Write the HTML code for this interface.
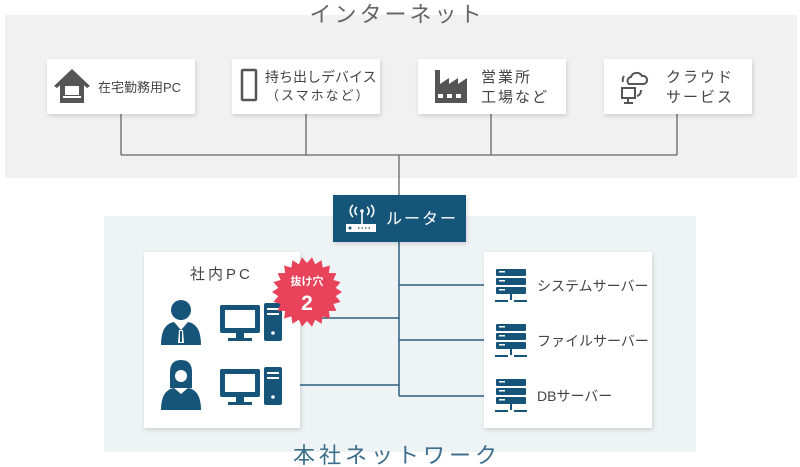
<!DOCTYPE html>
<html><head><meta charset="utf-8"><style>
html,body{margin:0;padding:0;background:#fff;width:800px;height:467px;overflow:hidden}
svg{display:block;font-family:"Liberation Sans","Noto Sans CJK JP",sans-serif}
</style></head><body>
<svg width="800" height="467" viewBox="0 0 800 467" xmlns="http://www.w3.org/2000/svg">
<defs>
<filter id="sh" x="-10%" y="-10%" width="125%" height="130%"><feDropShadow dx="1" dy="2" stdDeviation="2" flood-color="#000" flood-opacity="0.15"/></filter>
</defs>
<rect x="5" y="15" width="792" height="163" fill="#f1f1f1"/>
<text x="397" y="22" font-size="22" fill="#666" text-anchor="middle" letter-spacing="3">インターネット</text>
<rect x="104" y="216" width="592" height="236" fill="#eef3f5"/>
<text x="397" y="463" font-size="22" fill="#3d6f8c" text-anchor="middle" letter-spacing="4">本社ネットワーク</text>

<g stroke="#666" stroke-width="1.3" fill="none">
<path d="M121 114V155M306 114V155M491 114V155M677 114V155M121 155H677M399 155V196"/>
</g>
<g fill="#fff" filter="url(#sh)">
<rect x="47" y="59" width="148" height="55"/>
<rect x="232" y="59" width="148" height="55"/>
<rect x="418" y="59" width="148" height="55"/>
<rect x="604" y="59" width="148" height="55"/>
</g>
<g fill="#555">
<path d="M54 86 L72 69 L90 86 L87 88 L72 74 L57 88Z"/>
<path d="M60 84 L72 73 L84 84 V103 H60Z"/>
</g>
<rect x="65" y="86" width="14" height="9" fill="#fff"/><rect x="63" y="96" width="18" height="2" fill="#fff"/>
<text x="98" y="92" font-size="13" fill="#444">在宅勤務用PC</text>
<rect x="242" y="70" width="14" height="30" rx="1" fill="none" stroke="#555" stroke-width="2.5"/>
<text x="265" y="82" font-size="14" fill="#444">持ち出しデバイス</text>
<text x="266" y="100" font-size="13" fill="#444" letter-spacing="2">（スマホなど）</text>
<path d="M435 103 V70 H440 V84 L449 78 V84 L458 78 V84 L467 78 V103Z" fill="#555"/>
<rect x="438" y="94" width="5" height="4" fill="#fff"/><rect x="447" y="94" width="5" height="4" fill="#fff"/><rect x="456" y="94" width="5" height="4" fill="#fff"/>
<text x="481" y="82" font-size="15" fill="#444" letter-spacing="2">営業所</text>
<text x="481" y="102" font-size="15" fill="#444" letter-spacing="2">工場など</text>
<g fill="none" stroke="#555" stroke-width="2">
<path d="M629 84 a4 4 0 0 1 2 -7 a6 6 0 0 1 11 -1 a4 4 0 0 1 2 8 Z"/>
<rect x="622" y="88" width="13" height="10"/>
<path d="M628 98v4M624 103h9M624 76 q-2 3 -1 6M641 90 q0 5 -4 6"/>
</g>
<text x="666" y="82" font-size="15" fill="#444" letter-spacing="2">クラウド</text>
<text x="666" y="102" font-size="15" fill="#444" letter-spacing="2">サービス</text>

<g stroke="#2d5f80" stroke-width="1.5" fill="none">
<path d="M399 240V396M399 285H484M290 318H399M399 340H484M300 385H399M399 396H484"/>
</g>
<rect x="333" y="195" width="133" height="47" fill="#17547a" filter="url(#sh)"/>
<g fill="none" stroke="#fff" stroke-width="1.6">
<path d="M357 207 a5 5 0 0 0 0 8M353 205 a8 8 0 0 0 0 12M367 207 a5 5 0 0 1 0 8M371 205 a8 8 0 0 1 0 12M362 212V224"/>
</g>
<circle cx="362" cy="211" r="1.8" fill="#fff"/>
<rect x="346" y="224" width="30" height="8" fill="#fff"/>
<circle cx="350" cy="228" r="1.5" fill="#17547a"/>
<path d="M358 228h14" stroke="#17547a" stroke-width="1.3" stroke-dasharray="1.5 2"/>
<text x="386" y="224" font-size="16" fill="#fff" letter-spacing="2">ルーター</text>

<rect x="144" y="252" width="156" height="176" fill="#fff" filter="url(#sh)"/>
<text x="190" y="279" font-size="15" fill="#444" letter-spacing="3">社内PC</text>
<g fill="#17547a">
<circle cx="181" cy="310" r="10"/>
<path d="M161 345 Q161 324 174 322 L181 330 L188 322 Q201 324 201 345Z"/>
<circle cx="181" cy="375" r="10"/>
<path d="M170 372 Q170 360 181 360 Q192 360 192 372 V388 H170Z"/>
<path d="M161 410 Q161 390 174 388 L181 394 L188 388 Q201 390 201 410Z"/>
<rect x="220" y="305" width="40" height="28" rx="2"/>
<rect x="236" y="333" width="8" height="6"/><rect x="228" y="338" width="24" height="3"/>
<rect x="264" y="303" width="18" height="38" rx="2"/>
<rect x="220" y="369" width="40" height="28" rx="2"/>
<rect x="236" y="397" width="8" height="6"/><rect x="228" y="402" width="24" height="3"/>
<rect x="264" y="367" width="18" height="38" rx="2"/>
</g>
<g fill="#fff">
<rect x="225" y="310" width="30" height="18"/><rect x="225" y="374" width="30" height="18"/>
<rect x="267" y="308" width="12" height="2"/><rect x="267" y="313" width="12" height="2"/><circle cx="273" cy="333" r="1.8"/>
<rect x="267" y="372" width="12" height="2"/><rect x="267" y="377" width="12" height="2"/><circle cx="273" cy="397" r="1.8"/>
<path d="M179 330 h4 l1 13 h-6Z"/>
<circle cx="181" cy="376" r="6"/>
</g>
<rect x="180" y="331" width="2" height="11" fill="#17547a"/>
<polygon id="star" fill="#e8435a"/>
<text x="307" y="285" font-size="11" font-weight="bold" fill="#fff" text-anchor="middle">抜け穴</text>
<text x="307" y="310" font-size="21" font-weight="bold" fill="#fff" text-anchor="middle">2</text>

<rect x="484" y="252" width="168" height="176" fill="#fff" filter="url(#sh)"/>
<g id="srv" fill="#17547a">
<rect x="496" y="269" width="30" height="7" rx="1"/><rect x="496" y="278" width="30" height="7" rx="1"/><rect x="496" y="287" width="30" height="7" rx="1"/>
<rect x="510" y="294" width="2" height="6"/><rect x="495" y="300" width="13" height="2"/><rect x="514" y="300" width="13" height="2"/>
</g>
<use href="#srv" y="55"/><use href="#srv" y="110"/>
<g fill="#fff"><rect x="499" y="271" width="6" height="1.5"/><rect x="499" y="280" width="6" height="1.5"/><rect x="499" y="289" width="6" height="1.5"/>
<rect x="499" y="326" width="6" height="1.5"/><rect x="499" y="335" width="6" height="1.5"/><rect x="499" y="344" width="6" height="1.5"/>
<rect x="499" y="381" width="6" height="1.5"/><rect x="499" y="390" width="6" height="1.5"/><rect x="499" y="399" width="6" height="1.5"/></g>
<text x="537" y="291" font-size="14" fill="#444">システムサーバー</text>
<text x="537" y="346" font-size="14" fill="#444">ファイルサーバー</text>
<text x="537" y="401" font-size="14" fill="#444">DBサーバー</text>
</svg>
<script>
var p=[],cx=307,cy=292,n=22;for(var i=0;i<n*2;i++){var r=i%2?29:35,a=Math.PI*i/n;p.push((cx+r*Math.cos(a)).toFixed(1)+','+(cy+r*Math.sin(a)).toFixed(1));}
document.getElementById('star').setAttribute('points',p.join(' '));
</script>
</body></html>
